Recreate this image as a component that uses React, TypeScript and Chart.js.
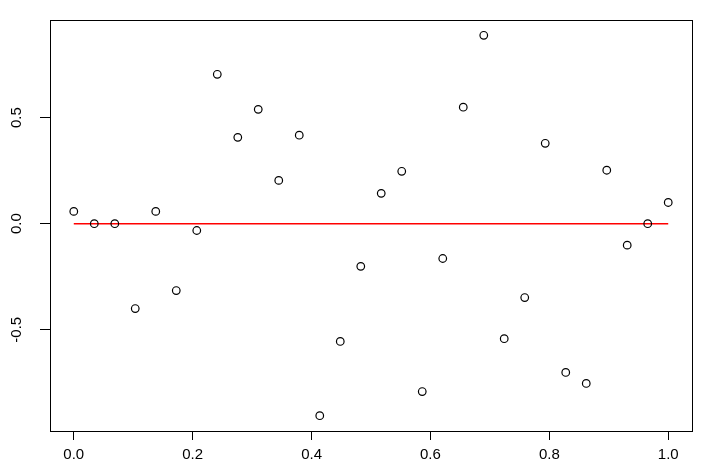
import React, { useEffect, useRef } from "react";
import { Chart, registerables } from "chart.js";

Chart.register(...registerables);

const xValues = [
  0, 0.0345, 0.069, 0.1034, 0.1379, 0.1724, 0.2069, 0.2414, 0.2759, 0.3103,
  0.3448, 0.3793, 0.4138, 0.4483, 0.4828, 0.5172, 0.5517, 0.5862, 0.6207, 0.6552,
  0.6897, 0.7241, 0.7586, 0.7931, 0.8276, 0.8621, 0.8966, 0.931, 0.9655, 1.0,
];
const yValues = [
  0.058, 0, 0, -0.4, 0.058, -0.315, -0.032, 0.704, 0.407, 0.539,
  0.204, 0.417, -0.905, -0.555, -0.201, 0.143, 0.247, -0.791, -0.164, 0.549,
  0.888, -0.542, -0.348, 0.379, -0.701, -0.753, 0.252, -0.101, 0, 0.1,
];
const fitX = [0, 1];
const fitY = [0, 0];
const xTicks = [0, 0.2, 0.4, 0.6, 0.8, 1.0];
const yTicks = [-0.5, 0, 0.5];
const xRange = [-0.04, 1.04];
const yRange = [-0.977, 0.96];

const FONT = "'Liberation Sans', Arial, Helvetica, sans-serif";

export default function App() {
  const ref = useRef<HTMLCanvasElement | null>(null);

  useEffect(() => {
    const canvas = ref.current;
    if (!canvas) return;

    const boxPlugin = {
      id: "rbox",
      afterDraw(chart: any) {
        const { ctx, chartArea } = chart;
        ctx.save();
        ctx.strokeStyle = "#000";
        ctx.lineWidth = 1;
        ctx.strokeRect(
          Math.round(chartArea.left) + 0.5,
          Math.round(chartArea.top) + 0.5,
          Math.round(chartArea.right - chartArea.left),
          Math.round(chartArea.bottom - chartArea.top)
        );
        const ys = chart.scales.y;
        ctx.fillStyle = "#000";
        ctx.font = `15px ${FONT}`;
        ctx.textAlign = "center";
        ctx.textBaseline = "middle";
        for (const v of yTicks) {
          const py = ys.getPixelForValue(v);
          ctx.save();
          ctx.translate(17, py);
          ctx.rotate(-Math.PI / 2);
          ctx.fillText(v.toFixed(1), 0, 0);
          ctx.restore();
        }
        ctx.restore();
      },
    };

    const chart = new Chart(canvas, {
      type: "scatter",
      data: {
        datasets: [
          {
            label: "points",
            data: xValues.map((x, i) => ({ x, y: yValues[i] })),
            pointStyle: "circle",
            pointRadius: 3.8,
            pointBorderWidth: 1.2,
            pointBorderColor: "#000",
            pointBackgroundColor: "rgba(0,0,0,0)",
            showLine: false,
          },
          {
            label: "fit",
            data: fitX.map((x, i) => ({ x, y: fitY[i] })),
            showLine: true,
            borderColor: "#ff0000",
            borderWidth: 1.5,
            pointRadius: 0,
            fill: false,
          },
        ],
      },
      options: {
        responsive: false,
        animation: false,
        events: [],
        layout: { padding: { left: 0, top: 20, right: 19, bottom: 0 } },
        plugins: {
          legend: { display: false },
          tooltip: { enabled: false },
          title: { display: false },
        },
        scales: {
          x: {
            type: "linear",
            min: xRange[0],
            max: xRange[1],
            afterBuildTicks: (s: any) => {
              s.ticks = xTicks.map((v) => ({ value: v }));
            },
            afterFit: (s: any) => {
              s.height = 41;
            },
            grid: {
              drawOnChartArea: false,
              drawTicks: true,
              tickLength: 9,
              color: "#000",
              lineWidth: 1,
            },
            border: { display: false },
            ticks: {
              color: "#000",
              font: { size: 15, family: FONT },
              padding: 6,
              maxRotation: 0,
              minRotation: 0,
              autoSkip: false,
              callback: (v: any) => Number(v).toFixed(1),
            },
          },
          y: {
            type: "linear",
            min: yRange[0],
            max: yRange[1],
            afterBuildTicks: (s: any) => {
              s.ticks = yTicks.map((v) => ({ value: v }));
            },
            afterFit: (s: any) => {
              s.width = 50;
            },
            grid: {
              drawOnChartArea: false,
              drawTicks: true,
              tickLength: 10,
              color: "#000",
              lineWidth: 1,
            },
            border: { display: false },
            ticks: { display: false },
          },
        },
      },
      plugins: [boxPlugin],
    });

    return () => chart.destroy();
  }, []);

  return (
    <div style={{ position: "fixed", left: 0, top: 0, width: 711, height: 472, background: "#fff" }}>
      <canvas ref={ref} width={711} height={472} style={{ display: "block" }} />
    </div>
  );
}
